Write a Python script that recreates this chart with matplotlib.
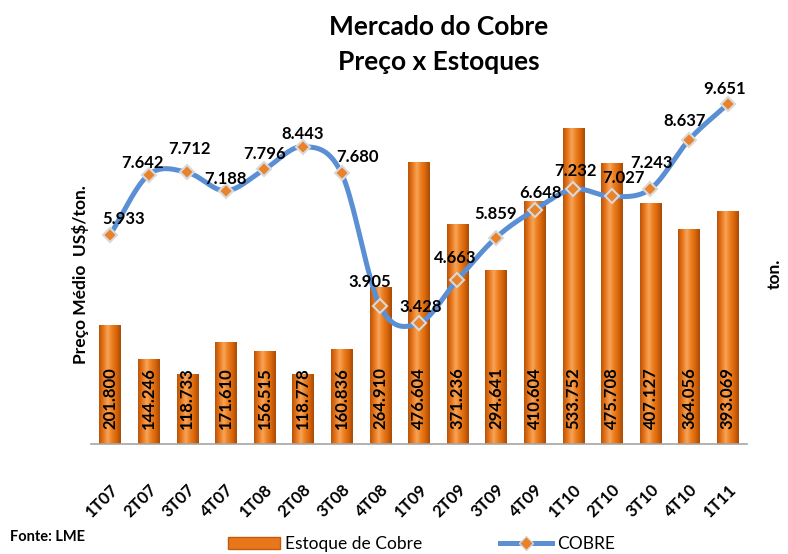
import numpy as np
import matplotlib.pyplot as plt
from matplotlib.colors import LinearSegmentedColormap
from matplotlib.lines import Line2D
from matplotlib.patches import Patch
import matplotlib.transforms as mtransforms

plt.rcParams['font.family'] = ['Lato', 'DejaVu Sans']

# data
quarters = ['1T07', '2T07', '3T07', '4T07', '1T08', '2T08', '3T08', '4T08', '1T09',
            '2T09', '3T09', '4T09', '1T10', '2T10', '3T10', '4T10', '1T11']
estoque = [201800, 144246, 118733, 171610, 156515, 118778, 160836, 264910, 476604,
           371236, 294641, 410604, 533752, 475708, 407127, 364056, 393069]
cobre = [5933, 7642, 7712, 7188, 7796, 8443, 7680, 3905, 3428,
         4663, 5859, 6648, 7232, 7027, 7243, 8637, 9651]

# label offsets for the price labels (pixels)
lbl_off = [(14, 16), (-6, 12), (2, 23), (0, 12), (0, 15), (0, 13), (16, 16), (-10, 24),
           (2, 16), (-2, 22), (0, 24), (6, 17), (2, 18), (12, 18), (1, 26), (-4, 19), (-3, 15)]


def fmt(v):
    return f'{v:,}'.replace(',', '.')


def catmull_rom(x, y, n=20):
    x = np.asarray(x, float)
    y = np.asarray(y, float)
    px = np.concatenate([[2 * x[0] - x[1]], x, [2 * x[-1] - x[-2]]])
    py = np.concatenate([[2 * y[0] - y[1]], y, [2 * y[-1] - y[-2]]])
    xs, ys = [], []
    t = np.linspace(0, 1, n, endpoint=False)
    for i in range(1, len(px) - 2):
        for p, out in ((px, xs), (py, ys)):
            p0, p1, p2, p3 = p[i - 1], p[i], p[i + 1], p[i + 2]
            out.extend(0.5 * (2 * p1 + (-p0 + p2) * t + (2 * p0 - 5 * p1 + 4 * p2 - p3) * t ** 2
                              + (-p0 + 3 * p1 - 3 * p2 + p3) * t ** 3))
    xs.append(x[-1])
    ys.append(y[-1])
    return np.array(xs), np.array(ys)


fig = plt.figure(figsize=(7.88, 5.54), dpi=100)
ax = fig.add_axes([0.115, 0.1986, 0.833, 0.6408])
x = np.arange(len(quarters))

bar_cmap = LinearSegmentedColormap.from_list(
    'cu', ['#B9540A', '#E8761A', '#F7A45A', '#EC7E1E', '#D8650B', '#A84B06'])
grad = np.linspace(0, 1, 64).reshape(1, -1)
bars = ax.bar(x, estoque, width=0.55, color='#E46C0A', zorder=2)
for b in bars:
    im = ax.imshow(grad, cmap=bar_cmap, aspect='auto', zorder=2.5,
                   extent=[b.get_x(), b.get_x() + b.get_width(), 0, b.get_height()])
    im.set_clip_path(b)

ax.set_xlim(-0.5, len(quarters) - 0.5)
ax.set_ylim(0, 600000)
ax.set_yticks([])
for s in ['top', 'right', 'left']:
    ax.spines[s].set_visible(False)
ax.spines['bottom'].set_color('#A6A6A6')
ax.spines['bottom'].set_linewidth(1.2)
ax.set_xticks(x)
ax.set_xticklabels(quarters, rotation=45, ha='right', va='top', rotation_mode='anchor',
                   fontsize=12, fontweight='bold')
ax.tick_params(axis='x', length=0, pad=27)

tr = mtransforms.blended_transform_factory(ax.transData, ax.transAxes)
for xi, v in zip(x, estoque):
    ax.text(xi, 0.13, fmt(v), transform=tr, rotation=90, ha='center', va='center',
            fontsize=12, fontweight='bold', zorder=4)

ax2 = ax.twinx()
ax2.set_ylim(0, 10080)
ax2.set_yticks([])
for s in ax2.spines.values():
    s.set_visible(False)
sx, sy = catmull_rom(x, cobre)
ax2.plot(sx, sy, color='#5B8FD4', lw=3.6, solid_capstyle='round', zorder=3)
ax2.plot(x, cobre, ls='none', marker='D', markersize=7.5, markerfacecolor='#E8832C',
         markeredgecolor='#D9D9D9', markeredgewidth=1.5, zorder=4)
for xi, v, (dx, dy) in zip(x, cobre, lbl_off):
    ax2.annotate(fmt(v), (xi, v), xytext=(dx, dy), textcoords='offset pixels',
                 ha='center', va='center', fontsize=12, fontweight='bold', zorder=5)

fig.text(0.557, 0.951, 'Mercado do Cobre', ha='center', va='center', fontsize=19, fontweight='bold')
fig.text(0.557, 0.888, 'Preço x Estoques', ha='center', va='center', fontsize=19, fontweight='bold')
fig.text(0.102, 0.505, 'Preço Médio  US$/ton.', rotation=90, ha='center', va='center',
         fontsize=12.5, fontweight='bold')
fig.text(0.983, 0.505, 'ton.', rotation=90, ha='center', va='center',
         fontsize=12.5, fontweight='bold')
fig.text(0.013, 0.030, 'Fonte: LME', ha='left', va='center', fontsize=10.5, fontweight='bold')

handles = [Patch(facecolor='#E8761A', edgecolor='#C65A0C'),
           Line2D([0], [0], color='#5B8FD4', lw=3.6, marker='D', markersize=7,
                  markerfacecolor='#E8832C', markeredgecolor='#D9D9D9')]
fig.legend(handles, ['Estoque de Cobre', 'COBRE'], loc='center', ncol=2,
           bbox_to_anchor=(0.535, 0.018), frameon=False, fontsize=12.5,
           handlelength=3, columnspacing=4.5, handletextpad=0.3)

fig.savefig('out.png', dpi=100)
